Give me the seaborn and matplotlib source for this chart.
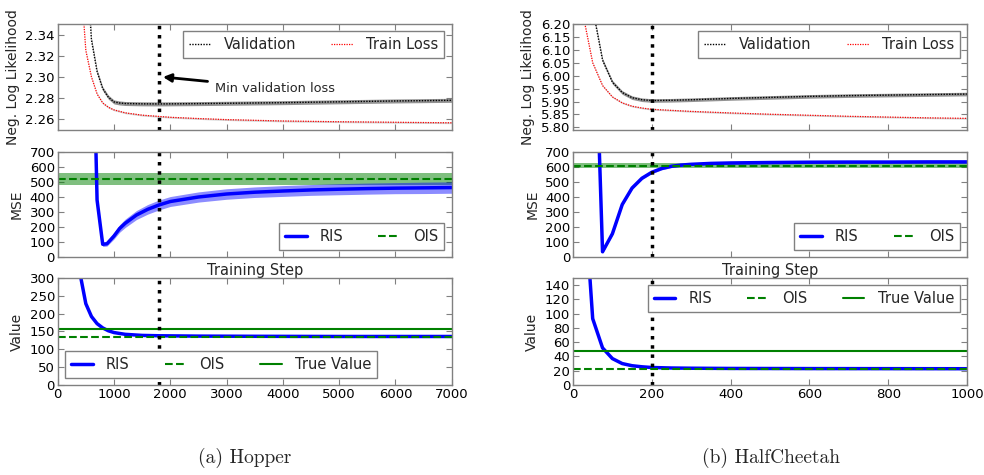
import numpy as np
import pandas as pd
import matplotlib
matplotlib.use("Agg")
import matplotlib.pyplot as plt
import seaborn as sns

# ---- Hopper ----
hop_val_x = [500, 600, 700, 800, 900, 1000, 1100, 1200, 1500, 1800, 2500, 3000, 4000, 5000, 6000, 7000]
hop_val_y = [2.42, 2.335, 2.305, 2.289, 2.281, 2.2765, 2.2755, 2.275, 2.2747, 2.2746, 2.2749, 2.2752,
             2.2758, 2.2766, 2.2774, 2.278]
hop_train_x = [400, 500, 600, 700, 800, 900, 1000, 1200, 1500, 1800, 2000, 2500, 3000, 4000, 5000, 6000, 7000]
hop_train_y = [2.40, 2.325, 2.300, 2.284, 2.2755, 2.2715, 2.269, 2.2662, 2.264, 2.2628, 2.262, 2.2608,
               2.2598, 2.2585, 2.2578, 2.2573, 2.2568]
hop_val_sd = 0.0019
hop_train_sd = 0.0008

hop_mse_x = [650, 700, 800, 875, 1000, 1100, 1200, 1400, 1600, 1800, 2000, 2500, 3000, 3500, 4000,
             4500, 5000, 5500, 6000, 6500, 7000]
hop_mse_y = [1200, 380, 85, 88, 140, 190, 225, 280, 318, 347, 370, 400, 420, 432, 440, 447, 452, 456,
             459, 461, 463]
hop_mse_sd = [20, 20, 15, 15, 20, 25, 28, 30, 32, 33, 33, 34, 35, 35, 36, 36, 37, 37, 37, 38, 38]
hop_ois_mse = 517
hop_ois_mse_lo, hop_ois_mse_hi = 477, 557

hop_value_x = [400, 500, 600, 700, 800, 900, 1000, 1200, 1500, 1800, 2500, 3500, 5000, 7000]
hop_value_y = [310, 228, 192, 172, 160, 152, 147, 142, 139, 138, 137, 136.5, 136, 136]
hop_ois_value = 134.5
hop_true_value = 156
hop_min_step = 1800

# ---- HalfCheetah ----
hc_val_x = [50, 75, 100, 125, 150, 175, 200, 250, 300, 400, 500, 600, 700, 800, 900, 1000]
hc_val_y = [6.26, 6.06, 5.975, 5.935, 5.915, 5.907, 5.904, 5.905, 5.907, 5.912, 5.916, 5.920, 5.923,
            5.925, 5.927, 5.929]
hc_train_x = [25, 50, 75, 100, 125, 150, 175, 200, 300, 400, 500, 600, 700, 800, 900, 1000]
hc_train_y = [6.24, 6.05, 5.962, 5.918, 5.895, 5.882, 5.875, 5.870, 5.862, 5.856, 5.851, 5.847, 5.843,
              5.840, 5.837, 5.835]
hc_val_sd = 0.007
hc_train_sd = 0.003

hc_mse_x = [50, 75, 100, 125, 150, 175, 200, 225, 250, 275, 300, 350, 400, 500, 600, 700, 800, 900, 1000]
hc_mse_y = [2100, 35, 155, 350, 460, 525, 565, 590, 605, 613, 618, 624, 627, 630, 632, 633, 633, 634, 634]
hc_mse_sd = 9
hc_ois_mse = 609
hc_ois_mse_lo, hc_ois_mse_hi = 592, 625

hc_value_x = [25, 50, 75, 100, 125, 150, 175, 200, 250, 300, 400, 600, 800, 1000]
hc_value_y = [296, 93, 52, 37, 30, 27, 25.5, 24.5, 23.8, 23.5, 23.2, 23.0, 22.9, 22.8]
hc_ois_value = 22.5
hc_true_value = 47
hc_min_step = 200

sns.set_style("white")
plt.rcParams["font.family"] = ["DejaVu Sans"]

fig = plt.figure(figsize=(9.84, 4.75), dpi=100)

cols = [0.0586, 0.5823]
w = 0.4005
rows = [(0.7263, 0.2232), (0.4589, 0.2211), (0.1895, 0.2253)]

axes = [[fig.add_axes([c, b, w, h]) for (b, h) in rows] for c in cols]

GREEN = (0, 0.5, 0)
DOTS = (0, (1, 1))
leg_kw = dict(fontsize=10.5, frameon=True, fancybox=False, edgecolor="0.5", framealpha=1,
              handlelength=1.5, handletextpad=0.9, columnspacing=2.4, borderpad=0.4)


def style_ax(ax):
    for s in ax.spines.values():
        s.set_color("0.5")
        s.set_linewidth(1)
    ax.tick_params(direction="in", length=4, color="0.5", labelcolor="black", labelsize=9.5,
                   top=True, right=True, bottom=True, left=True, pad=2)


def loss_panel(ax, vx, vy, vsd, tx, ty, tsd):
    vy = np.array(vy)
    ty = np.array(ty)
    ax.fill_between(tx, ty - tsd, ty + tsd, color="0.7", alpha=0.6, lw=0)
    ax.fill_between(vx, vy - vsd, vy + vsd, color="0.5", alpha=0.85, lw=0)
    sns.lineplot(x=vx, y=vy, ax=ax, color="black", lw=1, ls=DOTS, label="Validation")
    sns.lineplot(x=tx, y=ty, ax=ax, color="red", lw=0.9, ls=DOTS, label="Train Loss")
    ax.legend(loc="upper right", ncol=2, **leg_kw)
    ax.set_ylabel("Neg. Log Likelihood", fontsize=10)


def mse_panel(ax, mx, my, msd, ois, lo, hi, loc):
    my = np.array(my)
    msd = np.array(msd)
    ax.axhspan(lo, hi, color=GREEN, alpha=0.5, lw=0)
    ax.fill_between(mx, my - msd, my + msd, color="blue", alpha=0.45, lw=0)
    sns.lineplot(x=mx, y=my, ax=ax, color="blue", lw=2.5, label="RIS")
    ax.axhline(ois, color=GREEN, lw=1.5, ls="--", label="OIS")
    ax.set_ylim(0, 700)
    ax.set_yticks(range(0, 701, 100))
    ax.legend(loc=loc, ncol=2, **leg_kw)
    ax.set_ylabel("MSE", fontsize=10)
    ax.set_xlabel("Training Step", fontsize=10.5, labelpad=2)


def value_panel(ax, x, y, ois, true, loc):
    sns.lineplot(x=x, y=y, ax=ax, color="blue", lw=2.5, label="RIS")
    ax.axhline(ois, color=GREEN, lw=1.5, ls="--", label="OIS")
    ax.axhline(true, color=GREEN, lw=1.5, label="True Value")
    ax.legend(loc=loc, ncol=3, **leg_kw)
    ax.set_ylabel("Value", fontsize=10)


# Hopper
a0, a1, a2 = axes[0]
loss_panel(a0, hop_val_x, hop_val_y, hop_val_sd, hop_train_x, hop_train_y, hop_train_sd)
a0.set_ylim(2.25, 2.35)
a0.set_yticks([2.26, 2.28, 2.30, 2.32, 2.34])
a0.annotate("Min validation loss", xy=(1870, 2.300), xytext=(2794, 2.2896),
            fontsize=9.3, ha="left", va="center",
            arrowprops=dict(arrowstyle="-|>", color="black", lw=2, mutation_scale=12,
                            shrinkA=3, shrinkB=0))
mse_panel(a1, hop_mse_x, hop_mse_y, hop_mse_sd, hop_ois_mse, hop_ois_mse_lo, hop_ois_mse_hi,
          "lower right")
value_panel(a2, hop_value_x, hop_value_y, hop_ois_value, hop_true_value, "lower left")
a2.set_ylim(0, 300)
a2.set_yticks(range(0, 301, 50))
for ax in axes[0]:
    ax.set_xlim(0, 7000)
    ax.set_xticks(range(0, 7001, 1000))
    ax.axvline(hop_min_step, color="black", lw=2.5, ls=":")

# HalfCheetah
b0, b1, b2 = axes[1]
loss_panel(b0, hc_val_x, hc_val_y, hc_val_sd, hc_train_x, hc_train_y, hc_train_sd)
b0.set_ylim(5.79, 6.20)
b0.set_yticks(np.arange(5.80, 6.201, 0.05))
b0.set_yticklabels([f"{v:.2f}" for v in np.arange(5.80, 6.201, 0.05)])
mse_panel(b1, hc_mse_x, hc_mse_y, hc_mse_sd, hc_ois_mse, hc_ois_mse_lo, hc_ois_mse_hi, "lower right")
value_panel(b2, hc_value_x, hc_value_y, hc_ois_value, hc_true_value, "upper right")
b2.set_ylim(0, 150)
b2.set_yticks(range(0, 141, 20))
for ax in axes[1]:
    ax.set_xlim(0, 1000)
    ax.set_xticks(range(0, 1001, 200))
    ax.axvline(hc_min_step, color="black", lw=2.5, ls=":")

for col in axes:
    for i, ax in enumerate(col):
        style_ax(ax)
        if i < 2:
            ax.set_xticklabels([])

fig.text(0.249, 0.036, "(a) Hopper", fontsize=14, family=["cmr10", "DejaVu Serif"],
         ha="center", va="center")
fig.text(0.7835, 0.036, "(b) HalfCheetah", fontsize=14, family=["cmr10", "DejaVu Serif"],
         ha="center", va="center")

fig.savefig("out.png", dpi=100)
